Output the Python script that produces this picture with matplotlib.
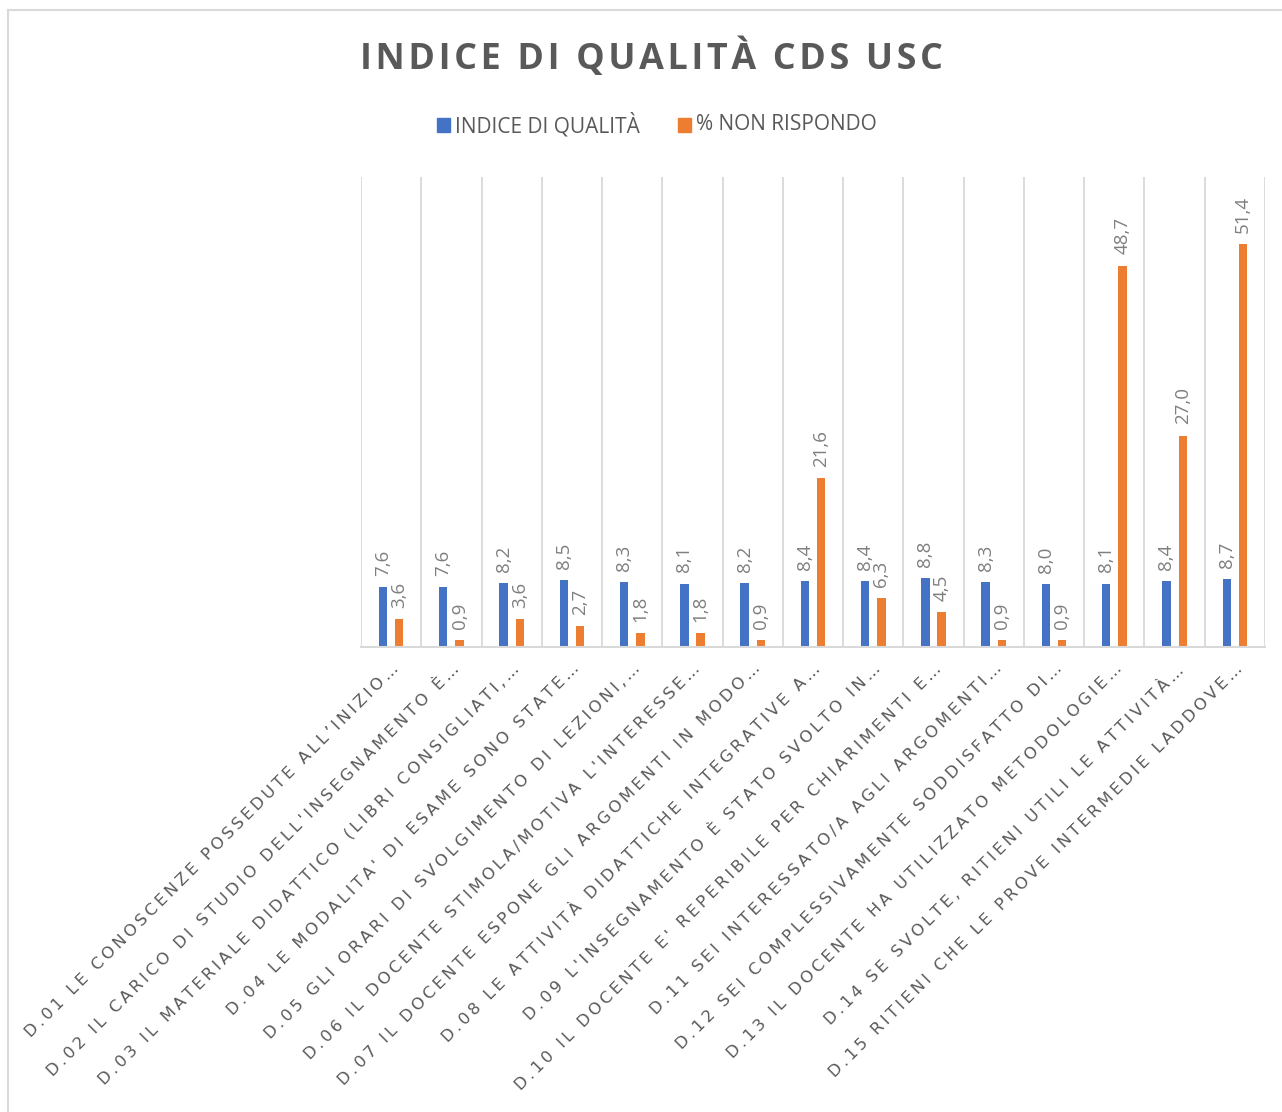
import numpy as np
import matplotlib
matplotlib.use("Agg")
import matplotlib.pyplot as plt
from matplotlib.patches import Rectangle
from matplotlib.lines import Line2D

plt.rcParams['font.family'] = ['Open Sans', 'DejaVu Sans']

categorie = [
    "D.01 LE CONOSCENZE POSSEDUTE ALL’INIZIO…",
    "D.02 IL CARICO DI STUDIO DELL'INSEGNAMENTO È…",
    "D.03 IL MATERIALE DIDATTICO (LIBRI CONSIGLIATI,…",
    "D.04 LE MODALITA' DI ESAME SONO STATE…",
    "D.05 GLI ORARI DI SVOLGIMENTO DI LEZIONI,…",
    "D.06 IL DOCENTE STIMOLA/MOTIVA L'INTERESSE…",
    "D.07 IL DOCENTE ESPONE GLI ARGOMENTI IN MODO…",
    "D.08 LE ATTIVITÀ DIDATTICHE INTEGRATIVE A…",
    "D.09 L'INSEGNAMENTO È STATO SVOLTO IN…",
    "D.10 IL DOCENTE E' REPERIBILE PER CHIARIMENTI E…",
    "D.11 SEI INTERESSATO/A AGLI ARGOMENTI…",
    "D.12 SEI COMPLESSIVAMENTE SODDISFATTO DI…",
    "D.13 IL DOCENTE HA UTILIZZATO METODOLOGIE…",
    "D.14 SE SVOLTE, RITIENI UTILI LE ATTIVITÀ…",
    "D.15 RITIENI CHE LE PROVE INTERMEDIE LADDOVE…",
]
indice_qualita = [7.6, 7.6, 8.2, 8.5, 8.3, 8.1, 8.2, 8.4, 8.4, 8.8, 8.3, 8.0, 8.1, 8.4, 8.7]
non_rispondo = [3.6, 0.9, 3.6, 2.7, 1.8, 1.8, 0.9, 21.6, 6.3, 4.5, 0.9, 0.9, 48.7, 27.0, 51.4]

BLU = '#4472c4'
ARANCIO = '#ed7d31'
GRIGIO = '#595959'


def spaziato(s, sep='\u2009'):
    # simula la spaziatura tra lettere di Excel
    return sep.join(s)


fig = plt.figure(figsize=(12.82, 11.12), dpi=100)
ax = fig.add_axes([361/1282, 1 - 647/1112, (1265-361)/1282, (647-177)/1112])

x = np.arange(len(categorie))
w = 0.14
b1 = ax.bar(x - 0.135, indice_qualita, w, color=BLU)
b2 = ax.bar(x + 0.135, non_rispondo, w, color=ARANCIO)

for bars, vals in ((b1, indice_qualita), (b2, non_rispondo)):
    for r, v in zip(bars, vals):
        ax.annotate(f"{v:.1f}".replace('.', ','),
                    (r.get_x() + r.get_width()/2, r.get_height()),
                    xytext=(0, 8), textcoords='offset points',
                    rotation=90, ha='center', va='bottom',
                    color='#7f7f7f', fontsize=13.5)

ax.set_xlim(-0.5, len(categorie) - 0.5)
ax.set_ylim(0, 60)
ax.set_yticks([])
for s in ('top', 'right', 'left'):
    ax.spines[s].set_visible(False)
ax.spines['bottom'].set_color('#d9d9d9')
ax.spines['bottom'].set_linewidth(1.5)
for xv in np.arange(-0.5, len(categorie), 1.0):
    ax.axvline(xv, color='#d9d9d9', lw=1.3, zorder=0)

ax.set_xticks(x)
ax.set_xticklabels([spaziato(c) for c in categorie], rotation=45, ha='right',
                   va='top', rotation_mode='anchor', color=GRIGIO, fontsize=11.8,
                   family=['DejaVu Sans'])
ax.tick_params(axis='x', length=0, pad=10)

fig.text(651/1282, 1 - 58/1112, spaziato("INDICE DI QUALITÀ CDS USC", '\u200a'),
         ha='center', va='center', fontsize=25.8, fontweight='bold', color=GRIGIO)

# legenda
ly = 1 - 125/1112
fig.patches.append(Rectangle((437/1282, ly - 7/1112), 13/1282, 14/1112,
                             transform=fig.transFigure, color=BLU))
fig.text(455/1282, ly, "INDICE DI QUALITÀ", ha='left', va='center',
         fontsize=15, color=GRIGIO)
fig.patches.append(Rectangle((678/1282, ly - 7/1112), 13/1282, 14/1112,
                             transform=fig.transFigure, color=ARANCIO))
fig.text(696/1282, ly, "% NON RISPONDO", ha='left', va='center',
         fontsize=15, color=GRIGIO)

# bordo del grafico
fig.add_artist(Line2D([8/1282, 8/1282], [0, 1 - 10/1112], color='#d9d9d9',
                      lw=1.5, transform=fig.transFigure))
fig.add_artist(Line2D([8/1282, 1], [1 - 10/1112, 1 - 10/1112], color='#d9d9d9',
                      lw=1.5, transform=fig.transFigure))

fig.savefig('out.png', dpi=100)
